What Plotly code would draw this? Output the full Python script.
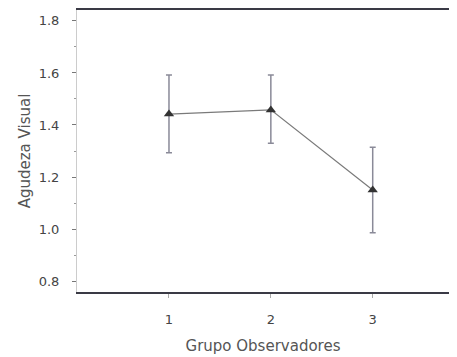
import plotly.graph_objects as go

groups = [1, 2, 3]
means = [1.442, 1.458, 1.150]
err_plus = [0.150, 0.134, 0.164]
err_minus = [0.149, 0.128, 0.164]
y_ticks = [0.8, 1.0, 1.2, 1.4, 1.6, 1.8]
x_ticks = [1, 2, 3]

fig = go.Figure()
fig.add_trace(go.Scatter(
    x=groups, y=means, mode="lines+markers",
    line=dict(color="#7a7a7a", width=1.2),
    marker=dict(symbol="triangle-up", size=9, color="#333333"),
    error_y=dict(type="data", symmetric=False, array=err_plus, arrayminus=err_minus,
                 color="#8a8a98", thickness=1.5, width=3),
    showlegend=False,
))

# page body has an 8px default margin; compensate so the plot area sits where the reference has it
fig.update_layout(
    width=441, height=347,
    margin=dict(l=69, r=0, t=2, b=63),
    plot_bgcolor="white", paper_bgcolor="white",
    font=dict(family="DejaVu Sans, Liberation Sans, sans-serif", color="#555555"),
)
fig.update_xaxes(
    range=[0.097, 3.749], tickvals=x_ticks, ticktext=[str(t) for t in x_ticks],
    showgrid=False, zeroline=False,
    showline=True, linecolor="#3a3a45", linewidth=1.5, mirror=True,
    ticks="outside", ticklen=4, tickcolor="#aaaaaa", tickwidth=1,
    ticklabelstandoff=11,
    tickfont=dict(size=13, color="#444444"),
    title=dict(text="Grupo Observadores", font=dict(size=15, color="#555555"), standoff=18),
)
fig.update_yaxes(
    range=[0.758, 1.842], tickvals=y_ticks, ticktext=[f"{v:.1f}" for v in y_ticks],
    showgrid=False, zeroline=False,
    showline=True, linecolor="#cccccc", linewidth=1,
    ticks="outside", ticklen=4, tickcolor="#777777", tickwidth=1,
    ticklabelstandoff=10,
    minor=dict(dtick=0.1, ticks="outside", ticklen=2, tickcolor="#999999"),
    tickfont=dict(size=13, color="#444444"),
    title=dict(text="Agudeza Visual", font=dict(size=15, color="#555555"), standoff=4),
)

fig.write_html("out.html")
